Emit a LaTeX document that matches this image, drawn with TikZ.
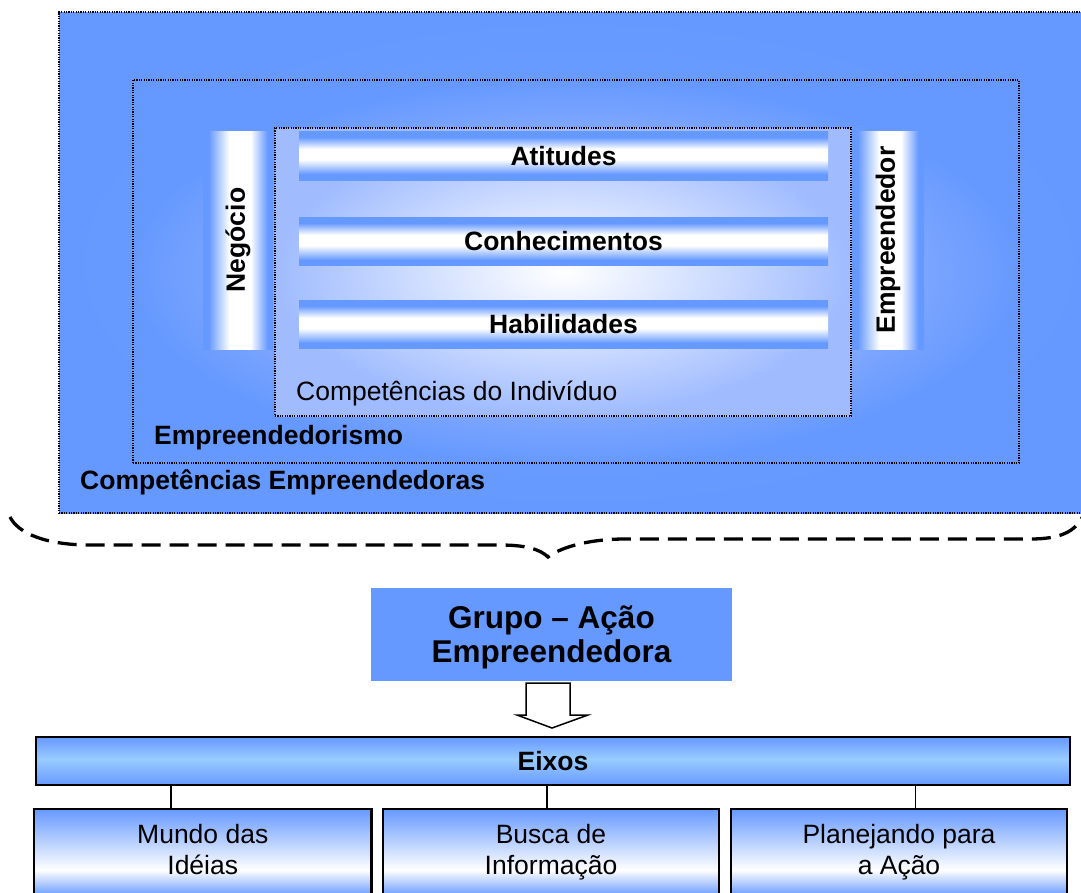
\documentclass[tikz,border=0pt]{standalone}
\usepackage{fontspec}
\setmainfont{Liberation Sans}
\definecolor{bl}{RGB}{102,153,255}
\definecolor{lb}{RGB}{153,204,255}
\definecolor{outerlight}{RGB}{112,162,255}
\definecolor{midc0}{RGB}{190,208,255}
\definecolor{midc1}{RGB}{145,178,255}
\definecolor{inedge}{RGB}{160,188,255}
\pgfdeclareverticalshading{hbarsh}{100bp}{color(0bp)=(bl); color(25bp)=(bl); color(31bp)=(bl); color(46bp)=(white); color(57bp)=(white); color(69bp)=(bl); color(100bp)=(bl)}
\pgfdeclarehorizontalshading{vbarsh}{100bp}{color(0bp)=(bl); color(25bp)=(bl); color(29bp)=(bl); color(44bp)=(white); color(59bp)=(white); color(71bp)=(bl); color(100bp)=(bl)}
\pgfdeclareverticalshading{eixshv}{100bp}{color(0bp)=(bl); color(25bp)=(bl); color(52bp)=(lb); color(75bp)=(bl); color(100bp)=(bl)}
\pgfdeclareverticalshading{leafsh}{100bp}{color(0bp)=(bl); color(25bp)=(bl); color(40bp)=(white); color(75bp)=(bl); color(100bp)=(bl)}
\pgfdeclareradialshading{midsh}{\pgfpoint{0bp}{0bp}}{color(0bp)=(midc0); color(14bp)=(midc1); color(25bp)=(bl); color(50bp)=(bl)}
\begin{document}
\begin{tikzpicture}[x=1pt,y=-1pt,
  dotbox/.style={draw=black, line width=1.3pt, dash pattern=on 1.2pt off 1.2pt, inner sep=0pt, anchor=center},
  hbar/.style={shading=hbarsh, inner sep=0pt, minimum width=529pt, minimum height=48.5pt, font=\fontsize{26.5}{31}\selectfont\bfseries},
  vbar/.style={shading=vbarsh, inner sep=0pt, minimum height=218pt, font=\fontsize{26.5}{31}\selectfont\bfseries},
  lbl/.style={anchor=west, inner sep=0pt, font=\fontsize{26.5}{31}\selectfont\bfseries},
  lblreg/.style={anchor=west, inner sep=0pt, font=\fontsize{26.5}{31}\selectfont},
  leaf/.style={shading=leafsh, draw=black, line width=2.4pt, inner sep=0pt, minimum height=87pt},
  leaftext/.style={anchor=base, inner sep=0pt, align=center, font=\fontsize{26.5}{31}\selectfont},
  conn/.style={draw=black, line width=1.6pt},
  brace/.style={draw=black, line width=3.3pt, dash pattern=on 19pt off 9pt}]
\useasboundingbox (0,0) rectangle (1081,892);
\clip (0,0) rectangle (1081,892);
% nested boxes
\node[dotbox, inner color=outerlight, outer color=bl, minimum width=1040pt, minimum height=501pt] (outer) at (579,262.5) {};
\node[dotbox, shading=midsh, minimum width=886pt, minimum height=383pt] (mid) at (576,271.5) {};
\node[dotbox, inner color=white, outer color=inedge, minimum width=576pt, minimum height=288pt] (inner) at (563,272) {};
% bars
\node[hbar] (atit) at (563.5,155.75) {Atitudes};
\node[hbar] (conh) at (563.5,241.5) {Conhecimentos};
\node[hbar] (habi) at (563.5,324.5) {Habilidades};
\node[vbar, minimum width=70pt] (neg) at (238,240) {\rotatebox{90}{Negócio}};
\node[vbar, minimum width=72pt] (empr) at (888,240) {\rotatebox{90}{Empreendedor}};
% labels
\node[lblreg] (lind) at (296,393) {Competências do Indivíduo};
\node[lbl] (lemp) at (154,438) {Empreendedorismo};
\node[lbl] (lce) at (80,482) {Competências Empreendedoras};
% brace
\draw[brace] (10,517) .. controls (18,533) and (45,545) .. (90,545) -- (500,545) .. controls (525,545) and (540,549) .. (548,557) .. controls (558,549) and (585,539) .. (625,539) -- (1030,539) .. controls (1060,539) and (1075,532) .. (1083,516);
% grupo
\node[fill=bl, inner sep=0pt, minimum width=361pt, minimum height=93pt] (grupo) at (551.5,634.5) {};
\node[anchor=base, inner sep=0pt, align=center, font=\fontsize{31.5}{34}\selectfont\bfseries] (grupotext) at (551.5,662) {Grupo – Ação\\Empreendedora};
% hollow arrow
\draw[line width=1.5pt, fill=white, line join=miter] (526,683) -- (570,683) -- (570,715) -- (588,715) -- (552,728) -- (517,715) -- (526,715) -- cycle;
% eixos
\node[shading=eixshv, draw=black, line width=2pt, inner sep=0pt, minimum width=1034pt, minimum height=48pt, font=\fontsize{26.5}{31}\selectfont\bfseries] (eixos) at (553,761) {Eixos};
% leaves
\node[leaf, minimum width=337.5pt] (mundo) at (202.75,852.5) {};
\node[leaf, minimum width=336pt] (busca) at (551,852.5) {};
\node[leaf, minimum width=336pt] (plan) at (899,852.5) {};
\node[leaftext] (tmundo) at (202.75,874) {Mundo das\\Idéias};
\node[leaftext] (tbusca) at (551,874) {Busca de\\Informação};
\node[leaftext] (tplan) at (899,874) {Planejando para\\a Ação};
% connectors
\draw[conn] ([xshift=-31.75pt]mundo.north) -- ([xshift=-31.75pt]mundo.north |- eixos.south);
\draw[conn] ([xshift=-4.3pt]busca.north) -- ([xshift=-4.3pt]busca.north |- eixos.south);
\draw[conn] ([xshift=16.4pt]plan.north) -- ([xshift=16.4pt]plan.north |- eixos.south);
\end{tikzpicture}
\end{document}
